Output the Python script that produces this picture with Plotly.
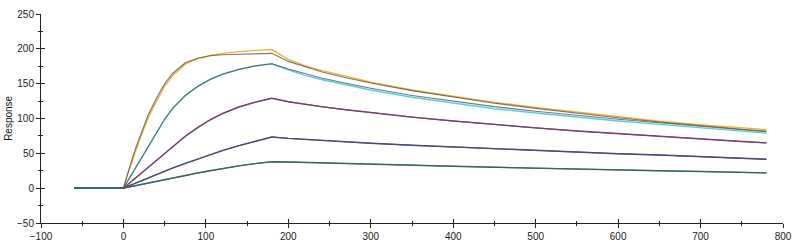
import plotly.graph_objects as go

# ---- data (time in s, response) ----
t_base = [-60, -40, -20, 0]
t_assoc = [0, 5, 10, 15, 20, 30, 40, 50, 60, 75, 90, 105, 120, 140, 160, 180]
t_dissoc = [180, 200, 220, 240, 270, 300, 350, 400, 450, 500, 550, 600, 650, 700, 750, 780]

base_vals = [0, 0, 0, 0]

# experimental curves (association, dissociation)
orange_a = [0, 20, 38, 55, 71, 101, 125, 146, 162, 178, 186, 190.5, 193.5, 196, 197.5, 199]
orange_d = [199, 185, 176, 169, 160, 152, 141, 132, 123, 116, 109, 102, 96, 91, 86, 84]
cyan_a = [0, 10, 20, 30, 40, 61, 81, 99, 115, 133, 146, 156, 163.5, 170.5, 175.5, 178.5]
cyan_d = [178.5, 170, 162, 156, 148.5, 141, 130.5, 122, 114, 108, 102, 96.5, 91.5, 87, 82, 79]
magenta_a = [0, 5, 10, 15, 20, 30.5, 40.5, 50.5, 60.5, 74.5, 87, 98, 107, 116.5, 123.5, 129]
magenta_d = [129, 124, 120, 117, 112.5, 108.5, 102, 96.5, 91, 86.5, 82, 78, 74, 70.5, 67, 65]
blue_a = [0, 2.5, 5, 7.5, 10, 15, 19.8, 24.5, 29, 35.5, 42, 48, 54, 61, 67.5, 73.5]
blue_d = [73.5, 71.5, 70, 68.5, 66.5, 64.5, 61.5, 59, 56, 54, 52, 49.5, 47.5, 45.5, 43, 41.5]
green_a = [0, 1.25, 2.5, 3.75, 5, 7.5, 10, 12.4, 14.8, 18.3, 21.7, 25, 28.2, 32, 35.3, 38]
green_d = [38, 37.5, 37, 36.5, 35.5, 34.5, 33, 31.5, 30, 28.5, 27.3, 26, 25, 24, 23, 22]

# fitted curves
fit_top_a = [0, 21, 40, 58, 74, 105, 129, 150, 165, 180, 186.5, 190, 191.5, 192.5, 193, 193.5]
fit_top_d = [193.5, 182, 174, 167, 158.5, 151, 140, 130.5, 122, 114.5, 107.5, 101, 95, 89.5, 84.5, 82]
fit_cyan_a = cyan_a
fit_cyan_d = [178, 171, 164, 158, 150.5, 143.5, 133, 124.5, 117, 110.5, 104.5, 99, 94, 89, 84, 81]
fit_magenta_a = magenta_a
fit_magenta_d = magenta_d
fit_blue_a = blue_a
fit_blue_d = blue_d
fit_green_a = green_a
fit_green_d = green_d

x_ticks = [-100, 0, 100, 200, 300, 400, 500, 600, 700, 800]
y_ticks = [-50, 0, 50, 100, 150, 200, 250]

data_series = [
    ("orange", orange_a, orange_d, "#F2B531"),
    ("cyan", cyan_a, cyan_d, "#4FD0E0"),
    ("magenta", magenta_a, magenta_d, "#9A2C88"),
    ("blue", blue_a, blue_d, "#2B3D9A"),
    ("green", green_a, green_d, "#1F7A50"),
]
fit_series = [
    (fit_top_a, fit_top_d),
    (fit_cyan_a, fit_cyan_d),
    (fit_magenta_a, fit_magenta_d),
    (fit_blue_a, fit_blue_d),
    (fit_green_a, fit_green_d),
]

fig = go.Figure()
for name, a, d, col in data_series:
    xs = t_base + t_assoc[1:] + t_dissoc[1:]
    ys = base_vals + a[1:] + d[1:]
    fig.add_trace(go.Scatter(x=xs, y=ys, mode="lines", name=name,
                             line=dict(color=col, width=1.4)))
for a, d in fit_series:
    xs = t_assoc + t_dissoc[1:]
    ys = a + d[1:]
    fig.add_trace(go.Scatter(x=xs, y=ys, mode="lines",
                             line=dict(color="rgba(85,85,85,0.8)", width=1.1)))

tickfont = dict(family="Liberation Sans, Arial, sans-serif", size=10, color="#222")
axis_common = dict(showgrid=False, zeroline=False, showline=True, linecolor="#222", linewidth=1,
                   tickcolor="#222", tickwidth=1)

fig.update_layout(
    width=800, height=250,
    margin=dict(l=41, r=9, t=8, b=26),
    paper_bgcolor="white", plot_bgcolor="white",
    showlegend=False,
    xaxis=dict(range=[-100, 800], tickvals=x_ticks, ticks="outside", ticklen=4, tickfont=tickfont,
               minor=dict(dtick=50, ticks="outside", ticklen=2, tickcolor="#222"),
               **axis_common),
    yaxis=dict(range=[-50, 250], tickvals=y_ticks, ticks="outside", ticklen=4, tickfont=tickfont,
               minor=dict(dtick=25, ticks="outside", ticklen=2, tickcolor="#222"),
               **axis_common),
    xaxis2=dict(overlaying="x", matches="x", range=[-100, 800], tickvals=x_ticks, ticks="inside", ticklen=4,
                showticklabels=False, side="bottom", anchor="y",
                minor=dict(dtick=50, ticks="inside", ticklen=2, tickcolor="#222"),
                **axis_common),
    yaxis2=dict(overlaying="y", matches="y", range=[-50, 250], tickvals=y_ticks, ticks="inside", ticklen=4,
                showticklabels=False, side="left", anchor="x",
                minor=dict(dtick=25, ticks="inside", ticklen=2, tickcolor="#222"),
                **axis_common),
    annotations=[dict(text="Response", xref="paper", yref="paper", x=-0.044, y=0.5,
                      textangle=-90, showarrow=False, xanchor="center", yanchor="middle",
                      font=dict(family="Liberation Sans, Arial, sans-serif", size=10, color="#111"))],
)
# invisible trace to activate the secondary axes (crossing tick marks)
fig.add_trace(go.Scatter(x=[None], y=[None], xaxis="x2", yaxis="y2", showlegend=False, hoverinfo="skip"))

fig.write_html("out.html")
